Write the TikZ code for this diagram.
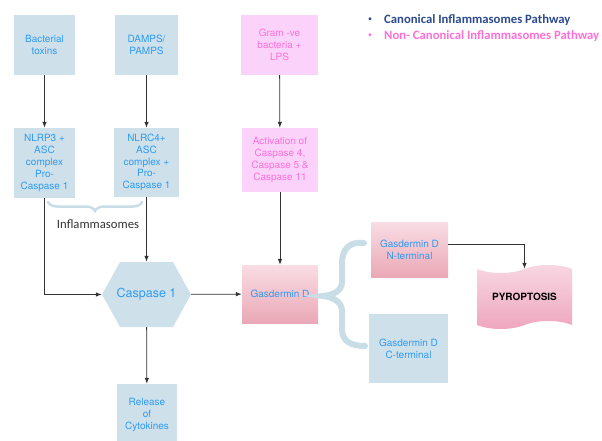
\documentclass[tikz,border=0pt]{standalone}
\usepackage{fontspec}
\newfontfamily\heros{TeX Gyre Heros}
\newfontfamily\carlito{Carlito}
\usetikzlibrary{arrows.meta,shapes.symbols,decorations.pathreplacing}
\definecolor{bluefill}{HTML}{CEE1EB}
\definecolor{bluetext}{HTML}{2F9BF2}
\definecolor{pinkfill}{HTML}{FBD3FA}
\definecolor{pinktext}{HTML}{FF6FD8}
\definecolor{gsdtop}{HTML}{F9DDE4}
\definecolor{gsdbot}{HTML}{EAA8B6}
\definecolor{pyrotop}{HTML}{F8D8E2}
\definecolor{pyrobot}{HTML}{EEA5BE}
\definecolor{bracecol}{HTML}{C9DDE7}
\definecolor{canoncol}{HTML}{2C4A8E}
\definecolor{noncancol}{HTML}{FF6FD6}
\begin{document}
\begin{tikzpicture}[x=1pt,y=-1pt,
    box/.style={align=center,inner sep=0pt,font=\heros\fontsize{10}{11.8}\selectfont},
    bluebox/.style={box,fill=bluefill,text=bluetext},
    pinkbox/.style={box,fill=pinkfill,text=pinktext},
    gsdbox/.style={box,top color=gsdtop,bottom color=gsdbot,text=bluetext},
    hexbox/.style={box,text=bluetext,font=\heros\fontsize{12.5}{14}\selectfont,
        path picture={\fill[bluefill] (path picture bounding box.west)
            -- ([xshift=18pt]path picture bounding box.north west)
            -- ([xshift=-18pt]path picture bounding box.north east)
            -- (path picture bounding box.east)
            -- ([xshift=-18pt]path picture bounding box.south east)
            -- ([xshift=18pt]path picture bounding box.south west) -- cycle;}},
    arr/.style={draw=black!80,line width=0.8pt,-{Latex[length=6pt,width=4.5pt]}},
    legend/.style={anchor=west,inner sep=0pt,font=\carlito\bfseries\fontsize{12.7}{14}\selectfont},
    dot/.style={inner sep=0pt,font=\carlito\fontsize{8}{9}\selectfont}]
    \clip(0,0)rectangle(602,441);
    % canonical pathway
    \node[bluebox,minimum width=61pt,minimum height=60pt](bact)at(44.5,45){Bacterial\\toxins};
    \node[bluebox,minimum width=63pt,minimum height=60pt](damp)at(146.5,45){DAMPS/\\PAMPS};
    \node[bluebox,minimum width=61pt,minimum height=70pt](nlrp)at(44.5,163){NLRP3 +\\ASC\\complex\\Pro-\\Caspase 1};
    \node[bluebox,minimum width=65pt,minimum height=69pt](nlrc)at(146.5,162.5){NLRC4+\\ASC\\complex +\\Pro-\\Caspase 1};
    \node[hexbox,minimum width=89pt,minimum height=65pt](casp)at(146.5,294.5){Caspase 1};
    \node[bluebox,minimum width=60pt,minimum height=62pt](rel)at(147,415){Release\\of\\Cytokines};
    % non-canonical pathway
    \node[pinkbox,minimum width=77pt,minimum height=60pt](gram)at(279.5,45){Gram -ve\\bacteria +\\LPS};
    \node[pinkbox,minimum width=76pt,minimum height=64pt](actv)at(280,160){Activation of\\Caspase 4,\\Caspase 5 \&\\Caspase 11};
    \node[gsdbox,minimum width=76pt,minimum height=58pt](gsd)at(280,294){Gasdermin D};
    \node[gsdbox,minimum width=77pt,minimum height=55pt](nterm)at(409.5,249.5){Gasdermin D\\N-terminal};
    \node[bluebox,minimum width=79pt,minimum height=69pt](cterm)at(408.5,348.5){Gasdermin D\\C-terminal};
    \node[shape=tape,tape bend top=in and out,tape bend bottom=in and out,tape bend height=8pt,
        top color=pyrotop,bottom color=pyrobot,inner sep=0pt,minimum width=95pt,minimum height=64pt,
        font=\heros\bfseries\fontsize{10}{12}\selectfont](pyro)at(524.5,297){PYROPTOSIS};
    % braces
    \draw[bracecol,line width=2.5pt,line cap=round,decorate,decoration={brace,amplitude=9pt,mirror}]
        (48,202)--(142,202);
    \node[inner sep=0pt,text=black!80,font=\carlito\fontsize{12.7}{14}\selectfont](infl)at(98,224){Inflammasomes};
    \draw[bracecol,line width=6pt,line cap=round](364,243)..controls(349,241)and(342,250)..(342,263)
        --(342,282)..controls(342,291)and(333,295)..(323,296)
        ..controls(333,297)and(342,302)..(342,311)
        --(342,329)..controls(342,340)and(349,346)..(365,346);
    % connectors
    \draw[arr](bact)--(nlrp);
    \draw[arr](damp)--(nlrc);
    \draw[arr](gram)--(actv);
    \draw[arr](nlrp.south)|-(casp.west);
    \draw[arr](nlrc)--(casp);
    \draw[arr](casp)--(gsd);
    \draw[arr](actv)--(gsd);
    \draw[arr](casp)--(rel);
    \draw[arr](nterm.8)-|(pyro.north);
    % legend
    \node[dot,text=canoncol](bull1)at(370,20){\textbullet};
    \node[legend,text=canoncol](canon)at(384,20){Canonical Inflammasomes Pathway};
    \node[dot,text=noncancol](bull2)at(370,36){\textbullet};
    \node[legend,text=noncancol](noncan)at(384,36){Non- Canonical Inflammasomes Pathway};
\end{tikzpicture}
\end{document}
